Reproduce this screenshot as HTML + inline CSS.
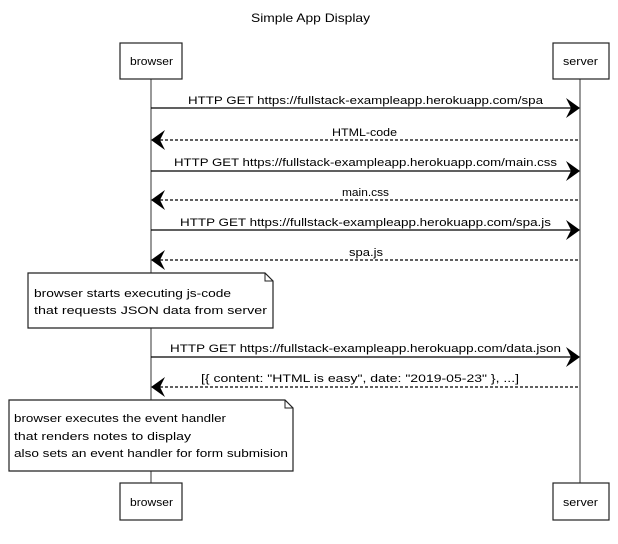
<!DOCTYPE html>
<html><head><style>html,body{margin:0;padding:0;background:#fff}</style></head>
<body>
<svg width="618" height="539" viewBox="0 0 618 539" xmlns="http://www.w3.org/2000/svg" font-family="Liberation Sans, sans-serif" font-size="11" fill="#000">
<rect width="618" height="539" fill="#fff"/>
<text x="251" y="22" textLength="119" lengthAdjust="spacingAndGlyphs" font-size="12">Simple App Display</text>
<line x1="151" y1="79" x2="151" y2="483" stroke="#333" stroke-width="1"/>
<line x1="580" y1="79" x2="580" y2="483" stroke="#333" stroke-width="1"/>
<g fill="#fff" stroke="#222" stroke-width="1.2">
<rect x="120" y="43" width="62" height="36"/>
<rect x="553" y="43" width="56" height="36"/>
<rect x="120" y="483" width="62" height="37"/>
<rect x="553" y="483" width="56" height="37"/>
</g>
<text x="130" y="65" textLength="43" lengthAdjust="spacingAndGlyphs">browser</text>
<text x="563" y="65" textLength="35" lengthAdjust="spacingAndGlyphs">server</text>
<text x="130" y="506" textLength="43" lengthAdjust="spacingAndGlyphs">browser</text>
<text x="563" y="506" textLength="35" lengthAdjust="spacingAndGlyphs">server</text>
<g stroke="#000" stroke-width="1.3">
<line x1="151" y1="108" x2="574" y2="108"/>
<line x1="160" y1="140" x2="580" y2="140" stroke-dasharray="3,2"/>
<line x1="151" y1="171" x2="574" y2="171"/>
<line x1="160" y1="200" x2="580" y2="200" stroke-dasharray="3,2"/>
<line x1="151" y1="230" x2="574" y2="230"/>
<line x1="160" y1="260" x2="580" y2="260" stroke-dasharray="3,2"/>
<line x1="151" y1="357" x2="574" y2="357"/>
<line x1="160" y1="387" x2="580" y2="387" stroke-dasharray="3,2"/>
</g>
<g fill="#000">
<path d="M566 98 L580 108 L566 118 L571 108 Z"/>
<path d="M165 130 L151 140 L165 150 L160 140 Z"/>
<path d="M566 161 L580 171 L566 181 L571 171 Z"/>
<path d="M165 190 L151 200 L165 210 L160 200 Z"/>
<path d="M566 220 L580 230 L566 240 L571 230 Z"/>
<path d="M165 250 L151 260 L165 270 L160 260 Z"/>
<path d="M566 347 L580 357 L566 367 L571 357 Z"/>
<path d="M165 377 L151 387 L165 397 L160 387 Z"/>
</g>
<text x="188" y="104" textLength="355" lengthAdjust="spacingAndGlyphs">HTTP GET https://fullstack-exampleapp.herokuapp.com/spa</text>
<text x="332" y="136" textLength="65" lengthAdjust="spacingAndGlyphs">HTML-code</text>
<text x="174" y="166" textLength="383" lengthAdjust="spacingAndGlyphs">HTTP GET https://fullstack-exampleapp.herokuapp.com/main.css</text>
<text x="342" y="196" textLength="47" lengthAdjust="spacingAndGlyphs">main.css</text>
<text x="180" y="226" textLength="371" lengthAdjust="spacingAndGlyphs">HTTP GET https://fullstack-exampleapp.herokuapp.com/spa.js</text>
<text x="349" y="256" textLength="34" lengthAdjust="spacingAndGlyphs">spa.js</text>
<text x="170" y="352" textLength="391" lengthAdjust="spacingAndGlyphs">HTTP GET https://fullstack-exampleapp.herokuapp.com/data.json</text>
<text x="201" y="382" textLength="318" lengthAdjust="spacingAndGlyphs">[{ content: "HTML is easy", date: "2019-05-23" }, ...]</text>
<g fill="#fff" stroke="#222" stroke-width="1.2">
<path d="M28 273 L265 273 L273 281 L273 328 L28 328 Z"/>
<path d="M9 400 L285 400 L293 408 L293 471 L9 471 Z"/>
</g>
<g fill="none" stroke="#222" stroke-width="1">
<path d="M265 273 L265 281 L273 281"/>
<path d="M285 400 L285 408 L293 408"/>
</g>
<text x="34" y="297" textLength="197" lengthAdjust="spacingAndGlyphs">browser starts executing js-code</text>
<text x="34" y="314" textLength="233" lengthAdjust="spacingAndGlyphs">that requests JSON data from server</text>
<text x="14" y="422" textLength="212" lengthAdjust="spacingAndGlyphs">browser executes the event handler</text>
<text x="14" y="440" textLength="177" lengthAdjust="spacingAndGlyphs">that renders notes to display</text>
<text x="14" y="457" textLength="274" lengthAdjust="spacingAndGlyphs">also sets an event handler for form submision</text>
</svg>
</body></html>
